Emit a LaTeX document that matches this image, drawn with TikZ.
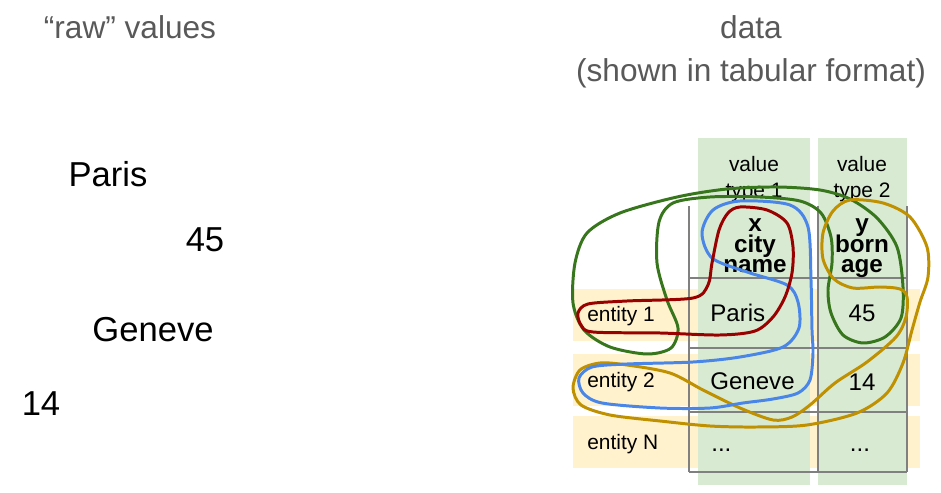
\documentclass[tikz,border=0pt]{standalone}
\usepackage{fontspec}
\setmainfont{Liberation Sans}
\usepackage{tikz}

\definecolor{titlegray}{HTML}{595959}
\definecolor{colgreen}{HTML}{D9EAD3}
\definecolor{rowyellow}{HTML}{FFF2CC}
\definecolor{gridgray}{HTML}{808080}
\definecolor{loopred}{HTML}{990000}
\definecolor{loopblue}{HTML}{4A86E8}
\definecolor{loopgreen}{HTML}{38761D}
\definecolor{loopgold}{HTML}{BF9000}

\lineskiplimit=-20pt

\tikzset{
	title/.style={text=titlegray, inner sep=0, anchor=base, align=center,
		font=\fontsize{18}{24.5}\selectfont},
	rawval/.style={inner sep=0, anchor=base, font=\fontsize{19.7}{23}\selectfont},
	cell/.style={inner sep=0, anchor=base, font=\fontsize{13.7}{16}\selectfont},
	label/.style={inner sep=0, anchor=base, align=center,
		font=\fontsize{11.9}{14.8}\selectfont},
	varname/.style={inner sep=0, anchor=base, align=center,
		font=\bfseries\fontsize{13.8}{11.7}\selectfont},
	gridline/.style={draw=gridgray, line width=0.8pt},
	loop/.style={line width=1.7pt, line join=round}
}

\begin{document}
\begin{tikzpicture}[x=0.02cm, y=-0.02cm]
				\useasboundingbox (0,0) rectangle (941,493);
				
				% Rows and columns
				\fill[rowyellow] (573,289) rectangle (920,341);
				\fill[rowyellow] (573,354) rectangle (920,406);
				\fill[rowyellow] (573,416) rectangle (920,468);
				\fill[colgreen] (698,138) rectangle (810,485);
				\fill[colgreen] (818,138) rectangle (907,485);
				
				% Grid
				\draw[gridline] (689,206) -- (689,472);
				\draw[gridline] (818,206) -- (818,472);
				\draw[gridline] (907,206) -- (907,472);
				\foreach \y in {278,348,412,472}
					\draw[gridline] (689,\y) -- (907,\y);
				
				% Titles (base = last line)
				\node[title] (rawtitle) at (130,39) {“raw” values};
				\node[title] (datatitle) at (751,82) {data\\(shown in tabular format)};
				
				% Raw values
				\node[rawval] (rawparis) at (108,187) {Paris};
				\node[rawval] (raw45) at (205,252) {45};
				\node[rawval] (rawgeneve) at (153,342) {Geneve};
				\node[rawval] (raw14) at (41,416) {14};
				
				% Headers
				\node[label] (type1) at (754,198) {value\\type 1};
				\node[label] (type2) at (862,198) {value\\type 2};
				\node[varname] (varx) at (755,273) {x\\city\\name};
				\node[varname] (vary) at (862,273) {y\\born\\age};
				
				% Entities
				\node[label, anchor=base west] (ent1) at (587,322) {entity 1};
				\node[label, anchor=base west] (ent2) at (587,388) {entity 2};
				\node[label, anchor=base west] (entn) at (587,450) {entity N};
				
				% Cells
				\node[cell, anchor=base west] (paris) at (710,322) {Paris};
				\node[cell, anchor=base west] (geneve) at (710,390) {Geneve};
				\node[cell, anchor=base west] (dotsx) at (711,452) {...};
				\node[cell] (age45) at (862,322) {45};
				\node[cell] (age14) at (862,391) {14};
				\node[cell] (dotsy) at (860,452) {...};
				
				% Loops
				\draw[loop, loopgreen] plot[smooth cycle] coordinates {
					(573,303) (575,263) (587,233) (620,213) (677,197) (727,189)
					(777,187) (820,190) (850,199) (877,218) (897,247) (903,287)
					(901,318) (885,337) (863,343) (843,335) (831,313) (828,290)
					(832,263) (831,237) (821,213) (800,201) (760,197) (710,197)
					(673,203) (659,222) (657,263) (667,300) (678,328) (671,348)
					(647,354) (610,347) (584,330)};
				\draw[loop, loopgold] plot[smooth cycle] coordinates {
					(850,200) (883,203) (910,217) (927,247) (928,277) (920,302)
					(912,330) (903,363) (887,393) (857,413) (807,425) (757,427)
					(710,426) (660,421) (610,415) (581,405) (573,388) (580,370)
					(600,363) (627,365) (670,373) (703,390) (740,408) (773,420)
					(792,417) (810,405) (835,383) (867,362) (896,337) (906,317)
					(907,297) (900,289) (880,287) (853,288) (834,279) (823,259)
					(823,233) (833,211)};
				\draw[loop, loopblue] plot[smooth cycle] coordinates {
					(740,201) (790,205) (808,227) (811,280) (812,330) (813,353)
					(810,380) (798,393) (773,399) (743,403) (710,408) (660,408)
					(602,403) (583,393) (579,378) (592,367) (627,364) (693,362)
					(740,357) (783,347) (799,328) (798,302) (787,285) (747,272)
					(712,258) (702,233) (713,210)};
				\draw[loop, loopred] plot[smooth cycle] coordinates {
					(740,207) (767,210) (787,223) (793,247) (792,273) (785,297)
					(773,317) (755,331) (720,335) (660,333) (593,332) (581,325)
					(578,313) (588,304) (627,301) (693,298) (708,285) (712,263)
					(719,230) (728,213)};
			\end{tikzpicture}
\end{document}
